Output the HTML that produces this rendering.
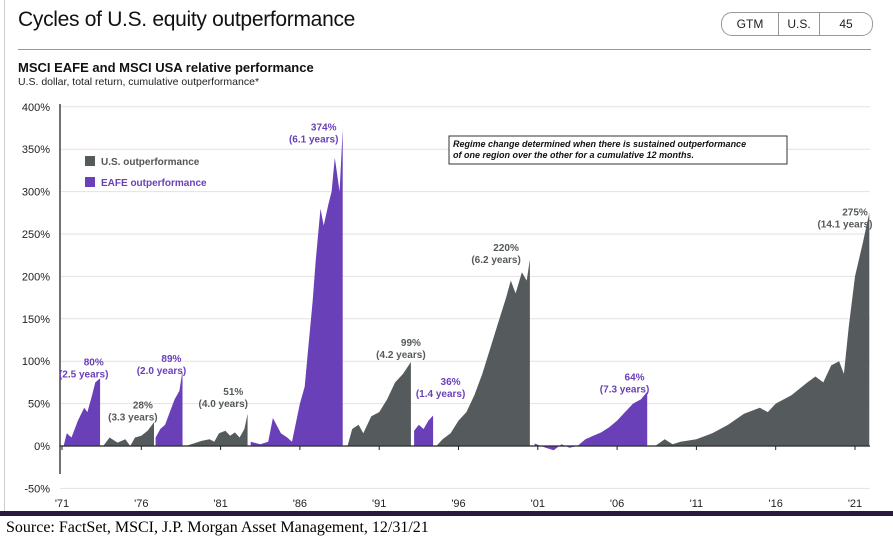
<!DOCTYPE html>
<html><head><meta charset="utf-8"><style>
body{margin:0;background:#fff;width:893px;height:546px;overflow:hidden;font-family:"Liberation Sans",Arial,sans-serif;position:relative}
.abs{position:absolute}
</style></head><body>
<div class="abs" style="left:4px;top:0;width:1px;height:512px;background:#ccc"></div>
<div class="abs" style="left:18px;top:8px;font-size:21px;color:#111;letter-spacing:-0.3px">Cycles of U.S. equity outperformance</div>
<div class="abs" style="left:721px;top:12px;width:150px;height:22px;border:1px solid #999;border-radius:11px;display:flex;font-size:12px;color:#222">
<div style="width:56px;text-align:center;line-height:22px;border-right:1px solid #999">GTM</div>
<div style="width:40px;text-align:center;line-height:22px;border-right:1px solid #999">U.S.</div>
<div style="flex:1;text-align:center;line-height:22px">45</div></div>
<div class="abs" style="left:18px;top:49px;width:853px;height:1px;background:#999"></div>
<div class="abs" style="left:18px;top:60px;font-size:13px;font-weight:bold;color:#111">MSCI EAFE and MSCI USA relative performance</div>
<div class="abs" style="left:18px;top:76px;font-size:10.5px;color:#222">U.S. dollar, total return, cumulative outperformance*</div>
<svg class="abs" style="left:0;top:0" width="893" height="546" id="chart"></svg>
<div class="abs" style="left:0;top:511px;width:893px;height:5px;background:#2a1a3f"></div>
<div class="abs" style="left:6px;top:519px;font-family:'Liberation Serif',serif;font-size:16px;color:#000">Source: FactSet, MSCI, J.P. Morgan Asset Management, 12/31/21</div>
<script>
const yTicks=[400,350,300,250,200,150,100,50,0,-50];
const xTickYears=[1971,1976,1981,1986,1991,1996,2001,2006,2011,2016,2021];
const segType=['eafe','us','eafe','us','eafe','us','eafe','us','eafe','us'];
const segYears=[
[1971.1,1971.3,1971.6,1972,1972.4,1972.6,1972.9,1973.1,1973.4],
[1973.6,1974,1974.5,1975,1975.3,1975.6,1976,1976.4,1976.8],
[1976.9,1977.2,1977.5,1977.8,1978.1,1978.4,1978.6],
[1978.8,1979.3,1979.8,1980.3,1980.6,1980.9,1981.3,1981.6,1981.9,1982.2,1982.5,1982.7],
[1982.9,1983.5,1984,1984.3,1984.8,1985.2,1985.5,1986,1986.3,1986.5,1986.8,1987,1987.3,1987.5,1987.8,1988,1988.2,1988.5,1988.7],
[1989.0,1989.3,1989.7,1990,1990.5,1991,1991.5,1992,1992.5,1993.0],
[1993.2,1993.5,1993.8,1994.1,1994.4],
[1994.6,1995,1995.5,1996,1996.5,1997,1997.5,1998,1998.5,1999,1999.3,1999.6,2000,2000.3,2000.5],
[2000.8,2001.5,2002,2002.5,2003,2003.5,2004,2004.5,2005,2005.5,2006,2006.5,2007,2007.5,2007.9],
[2008.4,2009,2009.5,2010,2011,2012,2013,2014,2015,2015.5,2016,2017,2018,2018.5,2019,2019.5,2020,2020.3,2020.6,2021,2021.5,2021.9]];
const segValues=[
[0,15,10,30,45,40,60,75,80],
[0,10,4,8,0,10,12,18,28],
[10,20,25,40,55,65,89],
[0,3,6,8,5,15,18,12,16,10,20,38],
[5,2,5,33,15,10,5,50,70,110,170,220,280,260,285,300,340,300,374],
[0,20,25,15,35,40,55,75,85,99],
[18,25,20,30,36],
[0,8,15,30,40,60,85,115,145,175,195,180,205,195,220],
[3,-2,-5,2,-2,0,8,12,16,22,30,40,50,55,64],
[0,8,2,5,8,15,25,38,45,40,50,60,75,82,75,95,100,85,140,200,240,275]];
const labelTexts=[['80%','(2.5 years)'],['28%','(3.3 years)'],['89%','(2.0 years)'],['51%','(4.0 years)'],['374%','(6.1 years)'],['99%','(4.2 years)'],['36%','(1.4 years)'],['220%','(6.2 years)'],['64%','(7.3 years)'],['275%','(14.1 years)']];
const labelAt=[[1973.0,95],[1976.1,44],[1977.9,99],[1981.8,60],[1987.5,372],[1993.0,118],[1995.5,72],[1999.0,230],[2007.1,77],[2021.0,272]];
const C={eafe:'#6a40b8',us:'#555a5c'};
const ns='http://www.w3.org/2000/svg',svg=document.getElementById('chart');
const X=y=>62+(y-1971)*15.86, Y=v=>446-v*0.848;
function mk(t,a,p){const e=document.createElementNS(ns,t);for(const k in a)e.setAttribute(k,a[k]);(p||svg).appendChild(e);return e;}
yTicks.forEach(v=>{
 const g=mk('line',{x1:60,x2:870,y1:Y(v),y2:Y(v),stroke:v===0?'#222':'#e2e2e2','stroke-width':v===0?1.2:1});
 
 
 const t=mk('text',{x:50,y:Y(v)+4,'text-anchor':'end','font-size':11,fill:'#222'});t.textContent=v+'%';
 
 
});
segValues.forEach((vals,i)=>{
 const ys=segYears[i];let d='M'+X(ys[0])+','+Y(0);
 vals.forEach((v,j)=>{d+='L'+X(ys[j]).toFixed(1)+','+Y(v).toFixed(1);});
 d+='L'+X(ys[ys.length-1])+','+Y(0)+'Z';
 const p=mk('path',{d:d,fill:C[segType[i]]});
 
 
});
mk('line',{x1:60,x2:60,y1:104,y2:474,stroke:'#444','stroke-width':1.5});
mk('line',{x1:60,x2:870,y1:Y(0),y2:Y(0),stroke:'#222','stroke-width':1});
xTickYears.forEach(yr=>{
 mk('line',{x1:X(yr),x2:X(yr),y1:446,y2:450,stroke:'#222'});
 const t=mk('text',{x:X(yr),y:507,'text-anchor':'middle','font-size':11,fill:'#222'});t.textContent="'"+String(yr).slice(2);
 
 
});
labelTexts.forEach((l,i)=>{
 const c=C[segType[i]],x=X(labelAt[i][0]),y=Y(labelAt[i][1]);
 const t1=mk('text',{x:x,y:y,'text-anchor':'middle','font-size':10,'font-weight':'bold',fill:c});t1.textContent=l[0];
 
 
 const t2=mk('text',{x:x-10,y:y+12,'text-anchor':'middle','font-size':10,'font-weight':'bold',fill:c});t2.textContent=l[1];
 
 
});
const lg=[['U.S. outperformance','us',161],['EAFE outperformance','eafe',182]];
lg.forEach(e=>{
 const r=mk('rect',{x:85,y:e[2]-5,width:10,height:10,fill:C[e[1]]});
 
 
 const t=mk('text',{x:101,y:e[2]+4,'font-size':10,'font-weight':'bold',fill:e[1]==='us'?'#555':C.eafe});t.textContent=e[0];
 
 
});
const bx=mk('rect',{x:449,y:136,width:338,height:28,fill:'#fff',stroke:'#333','stroke-width':1});


['Regime change determined when there is sustained outperformance','of one region over the other for a cumulative 12 months.'].forEach((s,i)=>{
 const t=mk('text',{x:453,y:147+i*11,'font-size':9,'font-weight':'bold','font-style':'italic',fill:'#111'});t.textContent=s;
 
 
});
</script>
</body></html>
